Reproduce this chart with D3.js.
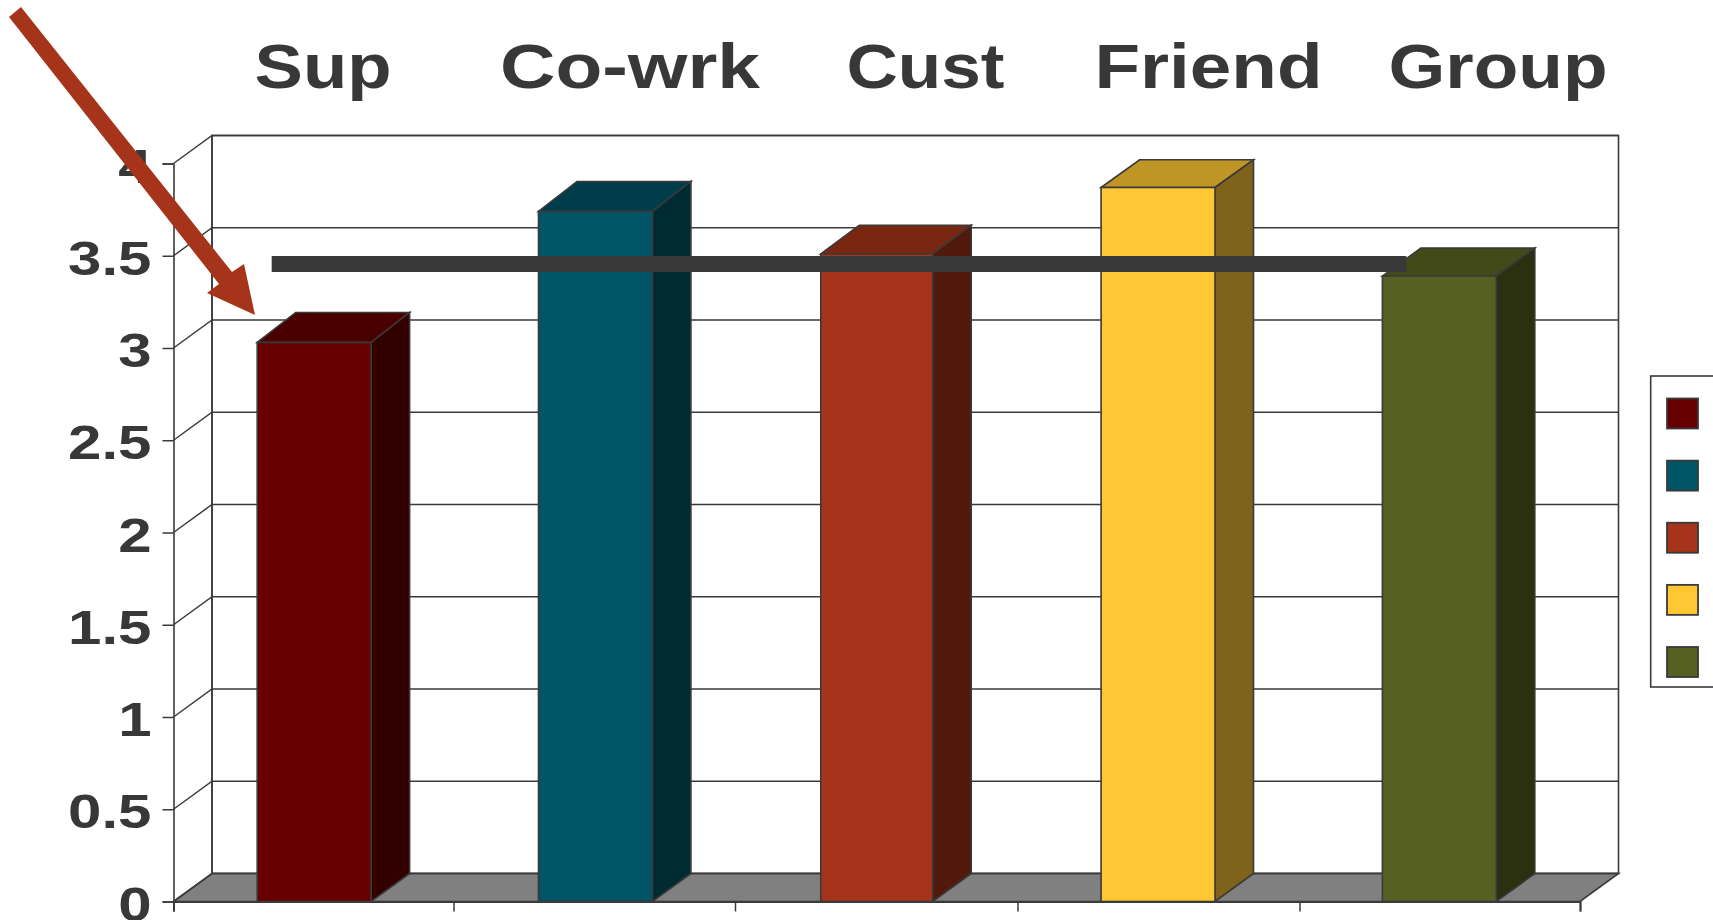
<!DOCTYPE html>
<html>
<head>
<meta charset="utf-8">
<script src="https://cdn.jsdelivr.net/npm/d3@7"></script>
<style>
html,body{margin:0;padding:0;background:#fff;overflow:hidden}
svg{display:block}
text{font-family:"Liberation Sans",Arial,sans-serif;font-weight:700;fill:#383838}
</style>
</head>
<body>
<svg id="c" width="1713" height="920"></svg>
<script>
// Data
const categories = ["Sup", "Co-wrk", "Cust", "Friend", "Group"];
const values = [3.03, 3.74, 3.51, 3.87, 3.39];
const average = [3.455];
const yTicks = [0, 0.5, 1, 1.5, 2, 2.5, 3, 3.5, 4];
const frontColors = ["#660000", "#005566", "#A5341A", "#FFC733", "#566022"];
const topColors = ["#4A0000", "#003D4A", "#7A2712", "#BF9526", "#424A1A"];
const sideColors = ["#330000", "#002B33", "#52190D", "#7F631A", "#2B3011"];

// Layout
const W = 1713, H = 920;
const L = 173.5, R = 1580, B = 901.5, T = 163.5, DX = 38.5, DY = -28;
const ink = "#3a3a3a";
const labelCenters = [323, 630, 925.5, 1208.5, 1498];
const labelWidths = [137, 260, 158, 228, 219];
const topDepths = [30, 30, 28.6, 27.7, 28];
const barInsets = [0, 0, 1, 0, 0];
const xTickPositions = [173.5, 453.5, 735, 1017.5, 1299.5, 1580];
const svg = d3.select("#c");

const x = d3.scaleBand().domain(categories).range([L, R]).paddingInner(0.595).paddingOuter(0.2975);
const y = d3.scaleLinear().domain([0, 4]).range([B, T]);
const poly = d3.line();

// back wall
svg.append("rect").attr("x", L + DX).attr("y", T + DY).attr("width", R - L).attr("height", B - T)
  .attr("fill", "#fff").attr("stroke", ink).attr("stroke-width", 1.6);
// floor
svg.append("path").attr("d", poly([[L, B], [L + DX, B + DY], [R + DX, B + DY], [R, B]]) + "Z")
  .attr("fill", "#808080").attr("stroke", ink).attr("stroke-width", 1.6);

// gridlines across back wall and side wall
const grid = svg.append("g").attr("fill", "none").attr("stroke", ink).attr("stroke-width", 1.5);
yTicks.forEach(t => {
  grid.append("path").attr("d", poly([[L, y(t)], [L + DX, y(t) + DY], [R + DX, y(t) + DY]]));
});
grid.append("line").attr("x1", L + DX).attr("x2", L + DX).attr("y1", T + DY).attr("y2", B + DY);

// bars
const barL = (d, i) => x(d) + barInsets[i];
const barR = (d, i) => x(d) + x.bandwidth() - barInsets[i];
const bars = svg.append("g").selectAll("g").data(categories).join("g")
  .attr("stroke", ink).attr("stroke-width", 1.6).attr("stroke-linejoin", "miter");
bars.append("path").attr("fill", (d, i) => topColors[i])
  .attr("d", (d, i) => {
    const a = barL(d, i), b = barR(d, i), v = y(values[i]), t = v - topDepths[i];
    return poly([[a, v], [a + DX, t], [b + DX, t], [b, v]]) + "Z";
  });
bars.append("path").attr("fill", (d, i) => sideColors[i])
  .attr("d", (d, i) => {
    const b = barR(d, i), v = y(values[i]), t = v - topDepths[i];
    return poly([[b, v], [b + DX, t], [b + DX, B + DY], [b, B]]) + "Z";
  });
bars.append("rect").attr("fill", (d, i) => frontColors[i])
  .attr("x", barL).attr("width", (d, i) => barR(d, i) - barL(d, i))
  .attr("y", (d, i) => y(values[i])).attr("height", (d, i) => B - y(values[i]));

// y axis
const yAxis = svg.append("g").attr("transform", `translate(${L},0)`)
  .call(d3.axisLeft(y).tickValues(yTicks).tickSize(11).tickPadding(0).tickFormat(d3.format("~g")));
yAxis.select(".domain").attr("stroke", ink).attr("stroke-width", 1.6);
yAxis.selectAll(".tick line").attr("stroke", ink).attr("stroke-width", 1.5);
yAxis.selectAll(".tick text")
  .attr("x", 0).attr("dy", null).attr("y", 18.5)
  .attr("transform", "translate(-22,0) scale(1.25,1)")
  .attr("text-anchor", "end")
  .style("font-size", "48px").style("font-family", '"Liberation Sans",Arial,sans-serif').style("font-weight", 700).attr("fill", "#383838");

// x axis ticks
const xAxis = svg.append("g").attr("transform", `translate(0,${B})`)
  .call(d3.axisBottom(d3.scaleLinear().domain([L, R]).range([L, R])).tickValues(xTickPositions).tickSize(10).tickFormat(""));
xAxis.select(".domain").attr("stroke", ink).attr("stroke-width", 2);
xAxis.selectAll(".tick line").attr("stroke", ink).attr("stroke-width", 1.5);

// category labels above plot
svg.append("g").selectAll("text").data(categories).join("text")
  .attr("text-anchor", "middle").attr("font-size", 63)
  .attr("x", (d, i) => labelCenters[i]).attr("y", 87.5)
  .attr("textLength", (d, i) => labelWidths[i]).attr("lengthAdjust", "spacingAndGlyphs")
  .text(d => d);

// average line
svg.append("line").attr("x1", x(categories[0]) + 14.5).attr("x2", x(categories[4]) + 24)
  .attr("y1", y(average[0])).attr("y2", y(average[0]))
  .attr("stroke", "#383838").attr("stroke-width", 16);

// arrow annotation
svg.append("path").attr("fill", "#A5341A")
  .attr("d", poly([[21, 7], [232, 272], [244, 264], [255, 315], [207, 293], [219, 284], [9, 17]]) + "Z");

// legend (cut by the right edge)
svg.append("rect").attr("x", 1650.7).attr("y", 376).attr("width", 100).attr("height", 311)
  .attr("fill", "#fff").attr("stroke", ink).attr("stroke-width", 1.6);
const legendY = d3.scalePoint().domain(categories).range([413.5, 662]);
svg.append("g").selectAll("rect").data(categories).join("rect")
  .attr("x", 1667).attr("y", d => legendY(d) - 15).attr("width", 31).attr("height", 30)
  .attr("fill", (d, i) => frontColors[i]).attr("stroke", ink).attr("stroke-width", 1.8);
</script>
</body>
</html>
